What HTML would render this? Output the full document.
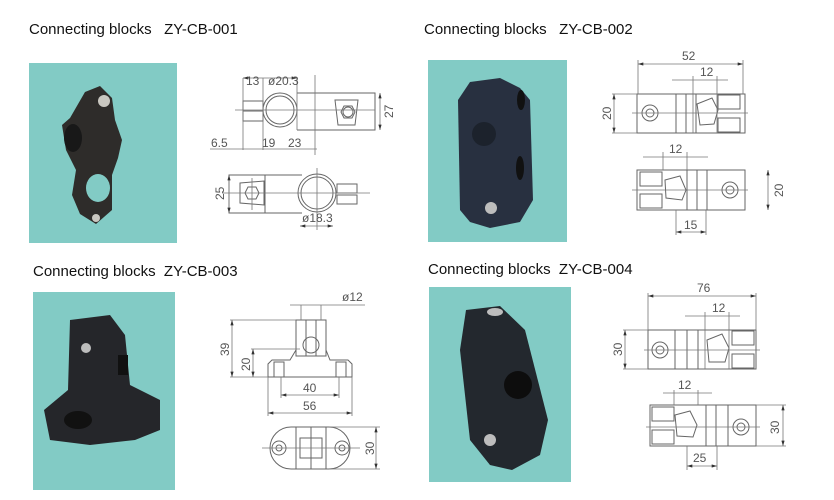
<!DOCTYPE html>
<html><head><meta charset="utf-8"><style>
html,body{margin:0;padding:0;background:#fff;width:834px;height:500px;overflow:hidden}
svg{display:block}
.t{font-family:"Liberation Sans",sans-serif;font-size:15px;fill:#111;white-space:pre}
.d{font-family:"Liberation Sans",sans-serif;font-size:12px;fill:#555}
.l{stroke:#777;stroke-width:0.8;fill:none}
.k{stroke:#666;stroke-width:1;fill:none}
</style></head><body>
<svg width="834" height="500" viewBox="0 0 834 500">
<defs>
<marker id="a" viewBox="0 0 10 6" refX="10" refY="3" markerWidth="8" markerHeight="4" orient="auto-start-reverse"><path d="M0 0L10 3L0 6z" fill="#333"/></marker>
</defs>
<text class="t" x="29" y="34">Connecting blocks&#160;&#160;&#160;ZY-CB-001</text>
<text class="t" x="424" y="34">Connecting blocks&#160;&#160;&#160;ZY-CB-002</text>
<text class="t" x="33" y="276">Connecting blocks&#160;&#160;ZY-CB-003</text>
<text class="t" x="428" y="274">Connecting blocks&#160;&#160;ZY-CB-004</text>

<!-- photos -->
<rect x="29" y="63" width="148" height="180" fill="#82cbc5"/>
<g fill="#2e2c2a">
<path d="M85 92 L100 86 L112 98 L115 120 L122 140 L118 158 L112 175 L112 210 L96 224 L80 214 L72 195 L76 170 L66 150 L62 125 L70 118 Z"/>
</g>
<ellipse cx="73" cy="138" rx="9" ry="14" fill="#181818"/>
<ellipse cx="98" cy="188" rx="12" ry="14" fill="#82cbc5"/>
<circle cx="104" cy="101" r="6" fill="#c9c7c0"/>
<circle cx="96" cy="218" r="4" fill="#c9c7c0"/>

<rect x="428" y="60" width="139" height="182" fill="#82cbc5"/>
<path d="M470 82 L500 78 L520 88 L530 100 L533 200 L520 222 L490 228 L470 222 L460 210 L458 100 Z" fill="#283040"/>
<circle cx="484" cy="134" r="12" fill="#1c222c"/>
<ellipse cx="521" cy="100" rx="4" ry="10" fill="#111"/>
<ellipse cx="520" cy="168" rx="4" ry="12" fill="#111"/>
<circle cx="491" cy="208" r="6" fill="#bdbdbd"/>

<rect x="33" y="292" width="142" height="198" fill="#82cbc5"/>
<path d="M70 320 L110 315 L125 335 L130 385 L160 400 L160 430 L135 440 L90 445 L50 440 L44 410 L68 390 Z" fill="#25262a"/>
<ellipse cx="78" cy="420" rx="14" ry="9" fill="#111"/>
<rect x="118" y="355" width="10" height="20" fill="#111"/>
<circle cx="86" cy="348" r="5" fill="#bdbdbd"/>

<rect x="429" y="287" width="142" height="195" fill="#82cbc5"/>
<path d="M466 310 L500 306 L525 330 L548 420 L540 455 L512 470 L490 465 L470 440 L460 350 Z" fill="#23282e"/>
<circle cx="518" cy="385" r="14" fill="#0d0d0d"/>
<circle cx="490" cy="440" r="6" fill="#bdbdbd"/>
<ellipse cx="495" cy="312" rx="8" ry="4" fill="#bdbdbd"/>

<!-- drawing 1 -->
<g class="k">
<rect x="243" y="101" width="20" height="20"/>
<line x1="243" y1="111" x2="263" y2="111"/>
<circle cx="280" cy="110" r="17"/><circle cx="280" cy="110" r="14"/>
<polyline points="297,93 375,93 375,130 297,130"/>
<path d="M335 100 L358 100 L355 125 L338 125 Z"/>
<path d="M341 112 L344 106 L352 106 L355 112 L352 118 L344 118 Z"/>
<circle cx="348" cy="112" r="5"/>
<rect x="229" y="175" width="36" height="38"/>
<path d="M240 183 L264 181 L264 205 L240 203 Z"/>
<path d="M245 193 L248 187 L256 187 L259 193 L256 199 L248 199 Z"/>
<circle cx="317" cy="193" r="19"/><circle cx="317" cy="193" r="16"/>
<line x1="265" y1="175" x2="302" y2="175"/><line x1="265" y1="213" x2="302" y2="213"/>
<rect x="337" y="184" width="20" height="9"/><rect x="337" y="195" width="20" height="9"/>
</g>
<g class="l">
<line x1="235" y1="110" x2="375" y2="110"/><line x1="315" y1="75" x2="315" y2="155"/>
<line x1="243" y1="78" x2="243" y2="150"/><line x1="263" y1="78" x2="263" y2="150"/><line x1="297" y1="78" x2="297" y2="130"/>
<line x1="243" y1="78" x2="297" y2="78" marker-start="url(#a)" marker-end="url(#a)"/>
<line x1="210" y1="149" x2="317" y2="149"/>
<line x1="380" y1="93" x2="380" y2="130" marker-start="url(#a)" marker-end="url(#a)"/>
<line x1="229" y1="175" x2="229" y2="213" marker-start="url(#a)" marker-end="url(#a)"/>
<line x1="222" y1="193" x2="370" y2="193"/><line x1="317" y1="168" x2="317" y2="230"/><line x1="252" y1="178" x2="252" y2="210"/>
<line x1="300" y1="226" x2="333" y2="226" marker-start="url(#a)" marker-end="url(#a)"/>
</g>
<text class="d" x="246" y="85">13</text><text class="d" x="268" y="85">ø20.3</text>
<text class="d" x="211" y="147">6.5</text><text class="d" x="262" y="147">19</text><text class="d" x="288" y="147">23</text>
<text class="d" transform="translate(393,118) rotate(-90)">27</text>
<text class="d" transform="translate(224,200) rotate(-90)">25</text>
<text class="d" x="302" y="222">ø18.3</text>

<!-- drawing 2 -->
<g class="k">
<path d="M637 94 L745 94 L745 133 L637 133 Z"/>
<circle cx="650" cy="113" r="8"/><circle cx="650" cy="113" r="4"/>
<line x1="676" y1="94" x2="676" y2="133"/><line x1="686" y1="94" x2="686" y2="133"/><line x1="696" y1="94" x2="696" y2="133"/>
<path d="M697 104 L712 98 L718 110 L714 124 L700 125 Z"/>
<rect x="718" y="95" width="22" height="14"/><rect x="718" y="118" width="22" height="14"/>
<path d="M637 170 L745 170 L745 210 L637 210 Z"/>
<circle cx="730" cy="190" r="8"/><circle cx="730" cy="190" r="4"/>
<line x1="687" y1="170" x2="687" y2="210"/><line x1="697" y1="170" x2="697" y2="210"/><line x1="707" y1="170" x2="707" y2="210"/>
<path d="M665 180 L680 176 L686 190 L682 200 L666 198 Z"/>
<rect x="640" y="172" width="22" height="14"/><rect x="640" y="194" width="22" height="14"/>
</g>
<g class="l">
<line x1="638" y1="64" x2="743" y2="64" marker-start="url(#a)" marker-end="url(#a)"/>
<line x1="638" y1="60" x2="638" y2="94"/><line x1="743" y1="60" x2="743" y2="94"/>
<line x1="672" y1="80" x2="728" y2="80"/><line x1="693" y1="76" x2="693" y2="133"/><line x1="717" y1="76" x2="717" y2="133"/>
<line x1="614" y1="94" x2="614" y2="133" marker-start="url(#a)" marker-end="url(#a)"/>
<line x1="612" y1="94" x2="637" y2="94"/><line x1="612" y1="133" x2="637" y2="133"/>
<line x1="632" y1="113" x2="748" y2="113"/><line x1="632" y1="190" x2="748" y2="190"/>
<line x1="768" y1="170" x2="768" y2="210" marker-start="url(#a)" marker-end="url(#a)"/>
<line x1="643" y1="157" x2="708" y2="157"/><line x1="663" y1="152" x2="663" y2="170"/><line x1="687" y1="152" x2="687" y2="170"/>
<line x1="676" y1="232" x2="706" y2="232" marker-start="url(#a)" marker-end="url(#a)"/>
<line x1="676" y1="210" x2="676" y2="235"/><line x1="706" y1="210" x2="706" y2="235"/>
</g>
<text class="d" x="682" y="60">52</text><text class="d" x="700" y="76">12</text>
<text class="d" transform="translate(611,120) rotate(-90)">20</text>
<text class="d" transform="translate(783,197) rotate(-90)">20</text>
<text class="d" x="669" y="153">12</text><text class="d" x="684" y="229">15</text>

<!-- drawing 3 -->
<g class="k">
<rect x="296" y="320" width="30" height="36"/>
<line x1="306" y1="320" x2="306" y2="356"/><line x1="316" y1="320" x2="316" y2="356"/>
<circle cx="311" cy="345" r="8"/>
<path d="M296 350 L290 360 L272 360 L268 364 L268 377 L352 377 L352 364 L348 360 L330 360 L326 350"/>
<rect x="274" y="362" width="10" height="15"/><rect x="336" y="362" width="10" height="15"/>
<path d="M291 427 L329 427 A21 21 0 0 1 329 469 L291 469 A21 21 0 0 1 291 427 Z"/>
<line x1="296" y1="427" x2="296" y2="469"/><line x1="326" y1="427" x2="326" y2="469"/><line x1="311" y1="427" x2="311" y2="469"/>
<rect x="300" y="438" width="22" height="20"/>
<circle cx="279" cy="448" r="7"/><circle cx="279" cy="448" r="3"/>
<circle cx="342" cy="448" r="7"/><circle cx="342" cy="448" r="3"/>
</g>
<g class="l">
<line x1="290" y1="305" x2="365" y2="305"/><line x1="301" y1="305" x2="301" y2="320"/><line x1="321" y1="305" x2="321" y2="320"/>
<line x1="232" y1="320" x2="232" y2="377" marker-start="url(#a)" marker-end="url(#a)"/>
<line x1="230" y1="320" x2="296" y2="320"/><line x1="230" y1="377" x2="268" y2="377"/>
<line x1="253" y1="349" x2="253" y2="377" marker-start="url(#a)" marker-end="url(#a)"/>
<line x1="251" y1="349" x2="300" y2="349"/>
<line x1="281" y1="395" x2="339" y2="395" marker-start="url(#a)" marker-end="url(#a)"/>
<line x1="281" y1="377" x2="281" y2="398"/><line x1="339" y1="377" x2="339" y2="398"/>
<line x1="268" y1="413" x2="352" y2="413" marker-start="url(#a)" marker-end="url(#a)"/>
<line x1="268" y1="377" x2="268" y2="416"/><line x1="352" y1="377" x2="352" y2="416"/>
<line x1="376" y1="427" x2="376" y2="469" marker-start="url(#a)" marker-end="url(#a)"/>
<line x1="330" y1="427" x2="380" y2="427"/><line x1="330" y1="469" x2="380" y2="469"/>
<line x1="262" y1="448" x2="360" y2="448"/>
</g>
<text class="d" x="342" y="301">ø12</text>
<text class="d" transform="translate(229,356) rotate(-90)">39</text>
<text class="d" transform="translate(250,371) rotate(-90)">20</text>
<text class="d" x="303" y="392">40</text><text class="d" x="303" y="410">56</text>
<text class="d" transform="translate(374,455) rotate(-90)">30</text>

<!-- drawing 4 -->
<g class="k">
<rect x="648" y="330" width="108" height="39"/>
<circle cx="660" cy="350" r="8"/><circle cx="660" cy="350" r="4"/>
<line x1="675" y1="330" x2="675" y2="369"/><line x1="687" y1="330" x2="687" y2="369"/><line x1="698" y1="330" x2="698" y2="369"/>
<path d="M707 340 L722 334 L729 348 L725 362 L709 362 Z"/>
<rect x="732" y="331" width="22" height="14"/><rect x="732" y="354" width="22" height="14"/>
<rect x="650" y="405" width="106" height="41"/>
<circle cx="741" cy="427" r="8"/><circle cx="741" cy="427" r="4"/>
<line x1="706" y1="405" x2="706" y2="446"/><line x1="716" y1="405" x2="716" y2="446"/><line x1="728" y1="405" x2="728" y2="446"/>
<path d="M675 415 L690 411 L697 425 L693 437 L677 436 Z"/>
<rect x="652" y="407" width="22" height="14"/><rect x="652" y="430" width="22" height="14"/>
</g>
<g class="l">
<line x1="648" y1="296" x2="756" y2="296" marker-start="url(#a)" marker-end="url(#a)"/>
<line x1="648" y1="293" x2="648" y2="330"/><line x1="756" y1="293" x2="756" y2="330"/>
<line x1="685" y1="316" x2="740" y2="316"/><line x1="705" y1="312" x2="705" y2="369"/><line x1="729" y1="312" x2="729" y2="369"/>
<line x1="625" y1="330" x2="625" y2="369" marker-start="url(#a)" marker-end="url(#a)"/>
<line x1="623" y1="330" x2="648" y2="330"/><line x1="623" y1="369" x2="648" y2="369"/>
<line x1="644" y1="350" x2="760" y2="350"/><line x1="646" y1="427" x2="760" y2="427"/>
<line x1="783" y1="405" x2="783" y2="446" marker-start="url(#a)" marker-end="url(#a)"/>
<line x1="756" y1="405" x2="786" y2="405"/><line x1="756" y1="446" x2="786" y2="446"/>
<line x1="663" y1="393" x2="712" y2="393"/><line x1="674" y1="390" x2="674" y2="405"/><line x1="698" y1="390" x2="698" y2="405"/>
<line x1="687" y1="466" x2="717" y2="466" marker-start="url(#a)" marker-end="url(#a)"/>
<line x1="687" y1="446" x2="687" y2="470"/><line x1="717" y1="446" x2="717" y2="470"/>
</g>
<text class="d" x="697" y="292">76</text><text class="d" x="712" y="312">12</text>
<text class="d" transform="translate(622,356) rotate(-90)">30</text>
<text class="d" x="678" y="389">12</text>
<text class="d" transform="translate(779,434) rotate(-90)">30</text>
<text class="d" x="693" y="462">25</text>
</svg>
</body></html>
